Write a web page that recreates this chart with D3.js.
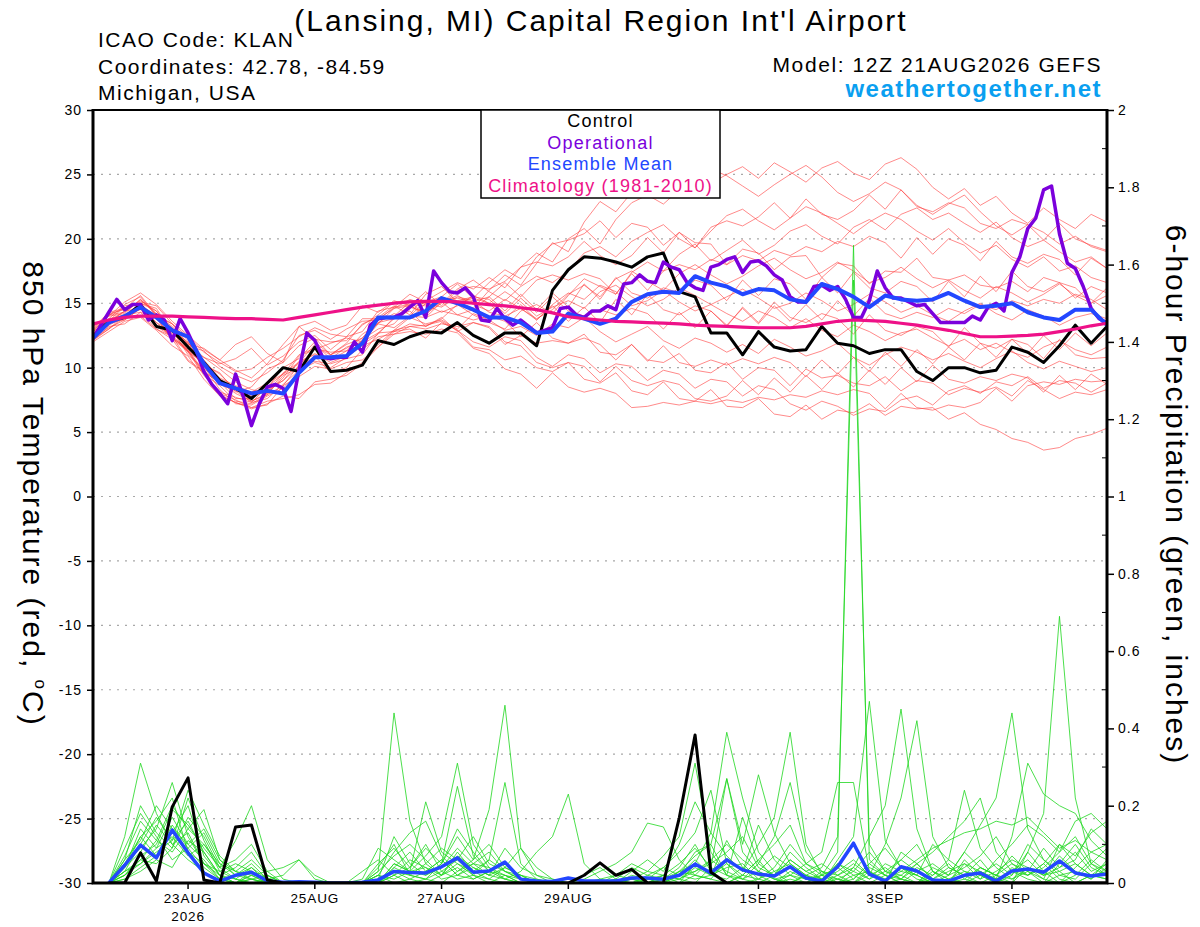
<!DOCTYPE html>
<html>
<head>
<meta charset="utf-8">
<script src="https://cdn.jsdelivr.net/npm/d3@7/dist/d3.min.js"></script>
<style>
  body { margin: 0; background: #fff; }
  text { font-family: "Liberation Sans", Arial, Helvetica, sans-serif; }
</style>
</head>
<body>
<svg id="chart" width="1200" height="927"></svg>
<script>
// GEFS run 12Z 21AUG2026, 6-hourly steps out to 384 h (operational run is 3-hourly)
const runStart = Date.UTC(2026, 7, 21, 12);
const HOUR = 3600e3;

const tempTicks = [-30, -25, -20, -15, -10, -5, 0, 5, 10, 15, 20, 25, 30];
const precipTicks = [0, 0.2, 0.4, 0.6, 0.8, 1, 1.2, 1.4, 1.6, 1.8, 2];
const precipMinor = [0.1, 0.3, 0.5, 0.7, 0.9, 1.1, 1.3, 1.5, 1.7, 1.9];
const dateTickTimes = [Date.UTC(2026,7,23), Date.UTC(2026,7,25), Date.UTC(2026,7,27), Date.UTC(2026,7,29),
                       Date.UTC(2026,8,1), Date.UTC(2026,8,3), Date.UTC(2026,8,5)];
const dateTickLabels = ["23AUG", "25AUG", "27AUG", "29AUG", "1SEP", "3SEP", "5SEP"];

// 850 hPa temperature, 6-hourly from 0 h (65 values)
const controlTemp = [12.4,13.6,13.9,14.9,13.2,12.9,11.6,10.4,9.0,8.4,
  7.6,8.8,10.0,9.7,11.6,9.7,9.8,10.2,12.1,11.8,
  12.4,12.8,12.7,13.5,12.5,11.9,12.7,12.7,11.7,16.0,
  17.6,18.6,18.5,18.2,17.8,18.6,18.9,15.9,15.5,12.7,
  12.7,11.0,12.8,11.6,11.3,11.4,13.2,11.9,11.7,11.1,
  11.4,11.4,9.7,9.0,10.0,10.0,9.6,9.8,11.6,11.2,
  10.4,11.7,13.3,11.9,13.2];

const meanTemp = [12.3,13.5,14.0,14.7,13.9,12.9,12.4,10.3,8.8,8.4,
  8.0,8.2,8.0,9.6,10.8,10.8,10.9,11.9,13.9,13.9,
  13.9,14.4,15.4,15.0,14.5,13.9,13.9,13.5,12.7,12.8,
  14.2,13.8,13.4,13.8,15.1,15.7,15.9,15.8,17.1,16.6,
  16.3,15.7,16.1,16.0,15.3,15.1,16.5,16.1,15.5,14.7,
  15.6,15.3,15.2,15.3,15.8,15.2,14.7,14.8,15.0,14.3,
  13.9,13.7,14.5,14.5,13.3];

const climoTemp = [13.4,13.7,13.9,14.0,14.0,14.0,13.95,13.9,13.85,13.8,
  13.8,13.75,13.7,13.9,14.1,14.3,14.5,14.7,14.85,15.0,
  15.1,15.15,15.15,15.1,15.0,14.9,14.8,14.65,14.5,14.25,
  13.95,13.8,13.7,13.6,13.55,13.5,13.45,13.4,13.3,13.25,
  13.2,13.15,13.1,13.1,13.1,13.2,13.4,13.6,13.7,13.65,
  13.6,13.45,13.3,13.1,12.9,12.65,12.4,12.4,12.45,12.5,
  12.6,12.8,13.0,13.25,13.45];

// operational, 3-hourly from 0 h (129 values)
const operTemp = [12.3,13.3,14.3,15.3,14.5,14.9,14.9,13.7,14.1,13.7,
  12.1,13.8,12.7,11.4,9.7,8.7,8.0,7.2,9.5,7.7,
  5.5,7.2,8.5,8.7,8.4,6.6,9.8,12.7,12.1,10.8,
  10.7,10.8,10.8,12.0,11.2,13.3,13.8,13.9,13.9,14.2,
  14.7,15.2,13.9,17.5,16.6,15.9,15.8,16.2,15.5,13.7,
  13.6,14.6,13.8,13.3,13.7,13.2,12.7,12.9,13.1,14.6,
  14.7,14.1,13.9,14.4,14.4,14.8,14.5,16.5,16.6,17.2,
  16.7,16.6,18.2,17.8,17.6,16.6,16.2,16.0,17.8,18.0,
  18.4,18.6,17.4,18.2,18.3,17.9,17.2,16.8,15.5,15.1,
  15.1,16.3,16.4,16.0,16.3,15.3,13.9,13.9,15.2,17.5,
  16.2,15.4,15.4,15.1,14.8,14.9,14.2,13.5,13.5,13.5,
  13.5,14.0,13.7,14.7,15.0,14.4,17.4,18.6,20.8,21.6,
  23.8,24.1,20.4,18.1,17.7,16.3,14.6,13.8,13.5];

// ensemble members, 850 hPa temperature
const memberTemps = [
  [12.6,13.8,14.9,15.5,14.0,13.4,12.1, 10.2,9.6,8.1,8.5,9.9,10.4,11.7, 12.3,11.0,11.9,13.4,
   13.9,14.8,14.1,15.7,16.3,15.1,14.6,16.0,17.2,16.4,18.1, 19.7,19.0,21.3,22.9,22.1,23.6,24.9,24.2,25.8,25.1,24.3,25.0,
   25.6,24.7,25.9,25.2,24.4,25.5,26.0,25.1,24.6,25.8,26.3,25.4,24.0,23.1,23.9,22.6,23.3,22.0,21.2,22.4,21.5,20.8,21.9,21.3],
  [12.9,14.1,14.6,15.0,14.6,12.7,11.6, 10.8,9.9,8.9,8.3,8.0,9.2,10.9, 11.4,11.9,12.3,12.0,
   13.4,13.1,14.0,15.2,15.9,16.6,16.1,17.0,16.2,17.8,18.9, 18.2,20.0,20.8,19.6,21.5,22.8,23.4,22.7,23.8,24.6,25.4,24.9,
   24.1,23.3,24.2,25.0,25.7,24.8,23.6,22.9,23.5,24.4,23.8,22.6,21.9,22.7,23.4,22.1,21.0,20.3,21.1,20.5,19.6,20.2,19.4,19.0],
  [13.2,14.0,15.1,15.8,14.9,13.6,12.5, 11.4,10.6,9.8,9.2,10.3,11.8,13.2, 13.6,12.9,13.3,14.8,
   14.3,15.2,14.8,14.2,15.0,16.1,16.8,15.9,15.2,16.3,17.1, 16.6,17.5,18.9,19.4,18.6,19.8,20.5,21.1,20.0,19.3,20.6,21.8,
   22.3,21.4,20.7,21.6,22.5,22.0,21.2,20.4,21.3,22.0,21.5,20.6,19.9,20.8,19.7,18.9,19.5,18.4,17.8,18.6,17.5,17.9,17.0,16.6],
  [12.3,13.1,13.7,14.6,13.9,12.2,11.3, 9.6,8.9,8.0,7.4,7.9,9.4,10.0, 10.9,10.6,11.3,11.8,
   12.6,13.9,14.4,13.2,13.8,14.9,14.1,13.5,13.0,14.4,14.9, 14.2,15.6,16.9,16.3,15.7,17.4,18.2,17.5,18.8,19.6,18.3,19.1,
   19.9,18.8,19.5,20.6,21.1,20.2,19.6,20.9,21.5,20.7,21.9,22.4,21.5,22.0,21.2,20.5,21.3,20.1,19.4,19.9,19.0,18.2,18.6,17.7],
  [12.7,13.5,14.4,15.2,14.4,13.0,11.9, 10.6,9.2,8.6,8.1,8.8,9.5,10.3, 11.1,10.4,10.9,12.2,
   13.0,13.4,14.7,14.3,15.1,15.6,14.9,14.4,15.3,14.6,13.8, 14.5,15.7,16.4,15.5,16.9,17.5,16.7,16.0,17.3,18.0,17.2,16.5,
   17.1,17.9,18.5,17.6,16.9,17.4,18.2,17.5,16.6,17.0,17.8,16.9,16.2,16.8,16.0,15.4,16.3,15.8,15.1,15.7,16.5,15.6,15.0,15.6],
  [13.0,14.2,14.5,15.1,14.8,13.4,12.4, 11.2,10.4,9.7,9.9,10.8,11.5,12.4, 13.1,12.6,12.4,13.8,
   13.8,14.6,15.3,14.9,14.3,14.8,15.6,15.0,15.9,15.1,14.0, 14.7,15.2,14.6,15.9,16.4,15.5,14.8,15.3,16.2,15.6,14.9,15.5,
   16.1,15.4,14.6,15.0,15.8,15.2,14.4,14.9,15.7,15.1,14.3,14.8,14.1,13.6,14.4,15.0,14.2,13.7,14.5,14.0,13.3,13.9,14.2,13.8],
  [12.5,13.3,13.9,14.8,14.1,12.9,11.0, 9.9,9.1,8.3,7.8,8.2,9.0,10.1, 11.6,11.0,11.5,12.3,
   13.5,14.2,13.8,15.0,14.7,15.5,15.2,14.3,14.0,14.6,13.7, 14.9,15.8,15.3,16.4,15.9,14.8,15.2,16.0,15.1,14.4,14.9,14.2,
   13.6,14.4,13.9,13.1,13.8,12.9,12.4,13.3,12.8,12.1,12.7,13.0,12.3,11.7,12.2,11.4,11.9,11.2,10.8,11.6,12.1,11.4,11.0,11.6],
  [12.1,13.0,13.9,14.0,13.0,12.4,11.2, 9.4,8.1,7.7,7.3,7.6,8.7,9.8, 10.4,10.0,10.8,11.7,
   12.2,12.9,13.9,13.4,13.7,13.0,14.2,13.7,12.9,13.2,12.5, 13.4,13.1,13.9,12.8,12.0,12.6,13.2,12.1,11.5,12.3,11.9,11.2,
   11.8,11.1,12.2,11.6,10.9,11.3,11.9,10.8,10.2,11.0,11.6,11.2,10.6,11.1,10.5,10.0,10.7,11.3,10.4,9.9,10.5,10.1,9.7,10.0],
  [12.8,13.6,14.4,14.6,13.5,12.3,11.5, 10.1,8.3,7.2,7.1,7.8,8.4,9.6, 10.9,9.6,10.0,11.4,
   12.4,12.6,13.2,13.3,13.6,12.9,12.0,11.6,12.4,12.1,10.8, 10.1,11.0,10.7,9.6,10.3,10.1,9.0,9.8,9.5,8.4,9.1,8.9,
   7.8,8.6,8.3,7.2,6.7,7.4,7.0,6.3,6.8,6.6,7.5,7.8,7.1,8.2,8.6,8.0,8.9,8.6,9.3,8.4,9.0,8.8,8.1,8.8],
  [12.0,12.8,13.6,13.9,12.9,11.7,10.9, 9.1,7.8,7.3,6.9,7.1,8.6,9.3, 10.1,9.9,10.4,10.6,
   11.6,12.8,13.0,12.3,13.5,12.9,11.6,11.4,10.6,10.9,10.0, 9.7,10.4,9.1,8.8,9.6,8.2,7.9,8.9,7.6,7.4,8.3,7.0,
   6.9,7.6,6.4,6.2,7.1,6.0,6.7,6.5,7.2,6.3,7.0,6.8,6.9,6.0,6.5,5.6,5.2,4.5,4.2,3.6,3.8,4.5,4.8,5.3],
  [12.4,13.7,14.1,14.5,13.3,12.5,11.3, 9.5,8.6,7.4,7.2,7.9,8.6,10.2, 10.5,10.3,10.7,11.0,
   12.7,12.8,13.4,13.2,13.9,12.8,13.5,13.1,11.8,12.5,11.9, 12.1,11.9,12.6,11.2,11.0,11.8,10.6,10.4,11.1,9.8,9.6,10.4,
   9.1,10.0,9.8,8.6,9.9,9.2,9.4,8.8,8.6,9.3,8.2,9.0,8.8,7.9,8.4,8.1,8.5,7.8,9.0,8.3,7.6,8.1,7.9,8.3],
  [12.9,14.0,14.2,15.3,14.2,12.6,11.9, 10.8,10.3,10.7,11.5,10.2,10.9,12.0, 12.5,11.4,12.4,12.8,
   14.4,14.7,15.7,15.1,15.5,16.5,15.4,16.6,17.6,16.9,18.6, 19.6,19.9,20.4,21.4,20.1,21.2,20.9,19.5,20.5,19.7,19.6,18.0,
   19.2,18.9,17.6,18.6,18.7,17.0,18.1,17.9,16.5,17.5,17.4,18.5,17.0,16.8,17.2,16.4,16.2,16.7,15.9,17.0,16.6,15.4,16.3,15.8],
  [12.2,13.0,14.1,14.3,13.8,12.3,11.4, 9.7,8.9,7.6,7.6,8.3,9.0,10.5, 11.0,10.8,10.8,12.0,
   12.7,13.8,14.0,13.9,14.4,14.1,14.5,15.5,14.4,15.7,14.5, 15.8,14.7,16.5,15.3,17.0,15.8,15.4,16.2,15.8,16.8,16.4,15.2,
   16.8,15.6,16.9,16.5,15.3,17.0,15.8,17.4,16.2,15.8,16.7,16.3,15.1,16.7,15.5,17.1,15.9,17.5,16.3,15.9,16.6,16.2,15.0,16.2],
  [12.6,13.8,14.1,15.0,13.8,13.1,11.3, 10.4,8.8,8.4,7.4,8.0,9.6,10.4, 11.8,10.7,11.6,12.0,
   13.5,13.8,14.9,13.9,15.1,14.1,13.7,14.0,13.6,12.4,13.5, 12.3,11.9,12.3,11.8,10.6,11.8,10.5,11.7,10.4,10.1,10.6,10.2,
   10.7,10.3,10.8,10.4,9.3,10.6,9.5,10.8,9.7,11.2,10.1,11.4,10.3,11.6,10.6,11.9,10.8,12.2,11.1,12.5,11.4,12.7,11.7,12.7],
  [12.3,13.7,13.8,14.8,13.5,12.8,11.2, 10.4,8.7,8.2,7.3,8.5,9.5,11.0, 11.5,11.2,11.3,12.6,
   13.4,14.6,14.8,15.9,14.8,16.0,16.3,16.1,16.7,17.8,18.2, 17.9,18.6,19.8,18.7,18.0,18.7,20.1,18.9,20.5,19.3,20.9,21.4,
   21.0,21.7,22.8,21.6,23.1,21.9,21.5,22.2,23.4,22.3,23.8,22.5,22.1,22.8,22.4,21.2,20.8,21.5,21.1,19.9,21.2,20.0,19.5,19.1],
  [13.1,14.3,14.6,15.6,14.1,13.2,11.7, 11.3,10.1,9.4,8.9,9.6,10.6,12.5, 12.9,12.2,13.0,13.6,
   13.7,14.7,14.9,14.8,15.2,15.1,15.4,15.0,13.8,14.9,13.7, 14.8,13.6,14.7,13.5,15.3,14.1,15.7,14.5,14.1,14.8,14.4,13.2,
   14.7,13.5,15.1,13.9,13.5,14.2,13.8,12.6,14.1,12.9,12.5,13.2,12.8,11.6,13.1,11.9,11.5,12.2,11.8,10.7,12.2,11.0,10.7,10.8],
  [12.2,13.5,13.7,14.6,13.2,12.4,10.6, 9.7,8.0,7.5,6.9,7.4,7.6,7.9, 8.7,8.8,9.6,10.4,
   11.8,12.9,13.2,13.0,13.4,13.2,13.5,13.2,12.0,11.7,10.4, 10.0,10.4,10.1,8.9,10.1,9.0,8.6,9.0,8.7,7.6,7.4,7.8,
   9.0,7.9,9.2,8.1,9.4,8.3,9.6,8.5,9.8,8.7,10.0,8.9,10.2,9.1,8.8,9.3,9.0,9.5,9.2,8.1,9.4,8.3,9.5,8.7],
  [12.8,13.6,14.8,15.0,14.4,12.8,12.0, 10.3,9.5,8.3,8.1,8.4,10.0,10.7, 12.0,11.0,11.8,12.3,
   13.8,14.0,15.1,14.1,15.3,15.4,15.1,15.5,16.6,15.5,16.8, 17.2,16.8,17.3,16.9,15.7,17.3,16.0,17.5,18.0,17.6,18.4,18.0,
   18.7,18.3,19.1,18.7,19.4,19.0,19.8,19.4,20.2,19.7,18.5,20.1,18.8,20.0,19.5,18.3,19.8,18.6,18.1,18.8,18.4,17.2,18.5,17.7],
  [12.1,13.2,13.4,14.3,13.0,12.2,10.5, 9.6,7.9,7.3,6.8,7.2,7.8,7.6, 8.9,9.1,9.4,10.3,
   11.6,12.6,12.8,12.6,13.0,12.7,11.5,11.1,9.9,9.5,8.4, 9.6,8.5,8.1,8.4,8.0,6.9,7.0,7.3,7.1,7.4,7.2,7.5,
   7.3,7.7,7.5,7.9,7.7,8.2,7.9,8.3,8.0,6.8,8.0,6.9,6.7,7.1,6.9,7.3,8.4,7.4,8.6,8.9,8.7,9.1,8.9,9.0],
  [12.8,14.1,14.3,15.3,14.1,13.4,11.8, 11.5,10.6,11.8,12.4,11.1,10.4,13.2, 12.2,12.0,12.1,13.3,
   14.1,15.1,15.2,15.0,15.4,15.2,15.5,15.3,14.2,15.4,14.3, 15.5,14.4,14.0,14.5,14.1,14.6,14.2,13.0,14.3,13.1,14.4,13.3,
   14.6,13.4,14.8,13.6,14.9,13.7,15.2,14.0,15.4,14.2,13.8,14.3,13.9,14.6,14.2,14.9,14.5,15.2,14.8,15.3,15.0,15.7,15.3,14.5]
];

// 6-hour precipitation (inches), valid at 6 h .. 384 h (64 values)
const controlPrecip = [0,0,0.078,0.005,0.197,0.272,0.008,0,
  0.145,0.15,0.008,0,0,0,0,0,
  0,0,0,0,0,0,0,0,
  0,0,0,0,0,0,0.02,0.052,
  0.02,0.035,0,0,0.168,0.383,0.028,0,
  0,0,0,0,0,0,0,0,
  0,0,0,0,0,0,0,0,
  0,0,0,0,0,0,0,0];

const meanPrecip = [0,0.046,0.098,0.065,0.137,0.078,0.026,0.005,
  0.02,0.028,0.005,0.002,0.003,0.002,0,0,
  0.002,0.008,0.03,0.027,0.026,0.042,0.065,0.028,
  0.031,0.054,0.01,0.005,0.004,0.013,0.005,0.005,
  0.005,0.013,0.013,0.01,0.02,0.049,0.026,0.06,
  0.034,0.023,0.018,0.042,0.013,0.005,0.042,0.103,
  0.023,0.005,0.042,0.031,0.008,0.005,0.02,0.026,
  0.005,0.031,0.036,0.028,0.057,0.026,0.018,0.023];

const memberPrecips = [
  [0,0.12,0.31,0.18,0.10,0.06,0.03,0, 0.02,0.05,0.01,0,0,0,0,0, 0,0.03,0.44,0.16,0.05,0.02,0.08,0.03, 0.01,0,0,0,0,0,0,0,
   0,0,0,0,0.02,0.06,0.02,0.11, 0.04,0,0,0.02,0,0,0.05,0.02, 0,0,0.04,0.01,0,0,0.06,0.02, 0,0.03,0.01,0,0.05,0.1,0.04,0.02],
  [0,0.05,0.09,0.14,0.26,0.12,0.05,0.01, 0,0.02,0,0,0,0,0,0, 0,0,0.02,0.04,0.09,0.05,0.12,0.06, 0.19,0.46,0.09,0.02,0,0,0,0,
   0,0,0,0.01,0.04,0.1,0.03,0, 0.02,0.06,0.01,0,0,0.03,0,0.01, 0.05,0.02,0,0,0.03,0.01,0,0.04, 0.02,0,0.08,0.03,0,0.02,0.06,0.03],
  [0,0.03,0.06,0.11,0.08,0.14,0.19,0.06, 0.03,0.01,0,0,0,0,0,0, 0,0,0.05,0.03,0.07,0.12,0.31,0.1, 0.04,0.02,0,0,0,0,0,0,
   0.01,0,0,0,0.03,0.05,0.13,0.39, 0.22,0.08,0.03,0,0.02,0,0,0, 0.03,0,0.08,0.05,0.01,0,0.02,0, 0,0.04,0.02,0.05,0.01,0,0.02,0.05],
  [0,0.02,0.05,0.09,0.12,0.07,0.1,0.04, 0.11,0.2,0.06,0.01,0,0,0,0, 0,0,0.03,0.01,0,0.02,0.04,0.01, 0.03,0.05,0.01,0,0,0,0.02,0.04,
   0.01,0,0,0,0,0.02,0.01,0.06, 0.03,0.1,0.17,0.39,0.1,0.02,0.01,0, 0,0.02,0.01,0,0.04,0.02,0.08,0.15, 0.22,0.44,0.14,0.06,0.03,0,0.02,0.01],
  [0,0.04,0.14,0.09,0.17,0.1,0.06,0.01, 0,0.03,0.01,0,0,0,0,0, 0,0.02,0,0.01,0.03,0.06,0.02,0.04, 0.02,0.01,0,0,0,0,0,0.01,
   0.02,0.05,0.03,0.07,0.12,0.31,0.08,0.02, 0,0.01,0,0.03,0.01,0,0.06,0.12, 0.47,0.11,0.04,0.02,0,0.01,0.03,0.02, 0,0.02,0.08,0.18,0.69,0.22,0.05,0.03],
  [0,0.06,0.2,0.13,0.09,0.22,0.11,0.03, 0.01,0,0,0,0,0,0,0, 0,0.04,0.1,0.02,0.01,0,0.03,0.06, 0.1,0.04,0.02,0,0,0,0,0,
   0,0.01,0.03,0.02,0,0.05,0.02,0.01, 0.04,0.02,0,0.01,0,0.02,0.08,1.65, 0.06,0.02,0,0.03,0.01,0,0.05,0.03, 0.01,0,0.04,0.02,0.07,0.03,0.01,0.04],
  [0,0.01,0.04,0.07,0.15,0.09,0.13,0.05, 0.02,0.04,0,0,0,0,0,0, 0.01,0.09,0.06,0.03,0.21,0.08,0.05,0.02, 0.06,0.26,0.05,0.01,0,0,0,0,
   0,0,0,0,0.02,0.03,0.06,0.1, 0.06,0.03,0.01,0,0.02,0.04,0.12,1.56, 0.1,0.03,0.01,0,0.02,0.05,0.01,0, 0.02,0.05,0.03,0.01,0,0.04,0.08,0.1],
  [0,0.03,0.1,0.17,0.11,0.16,0.08,0.02, 0,0.01,0.02,0,0,0,0,0, 0,0.01,0.12,0.05,0.02,0.05,0.25,0.07, 0.03,0.01,0.03,0.08,0.12,0.23,0.05,0.01,
   0,0,0.01,0.02,0.01,0,0.04,0.02, 0.01,0.05,0.02,0.06,0.03,0.01,0,0.04, 0.12,0.2,0.45,0.14,0.03,0.01,0,0.02, 0.05,0.02,0.1,0.06,0.02,0.03,0.01,0.06],
  [0,0.07,0.16,0.11,0.2,0.14,0.1,0.05, 0.03,0.02,0,0,0,0,0,0, 0,0,0.02,0.06,0.04,0.01,0.02,0.05, 0.08,0.03,0.01,0,0,0,0,0,
   0,0.02,0.01,0.04,0.08,0.13,0.24,0.05, 0.01,0,0.02,0.08,0.04,0.01,0.03,0.06, 0.02,0.1,0.22,0.42,0.12,0.04,0.02,0.06, 0.01,0.12,0.31,0.23,0.2,0.18,0.11,0.07],
  [0,0.02,0.06,0.05,0.09,0.17,0.12,0.04, 0.01,0,0.01,0.02,0.06,0.01,0,0, 0,0,0.04,0.02,0.01,0.03,0.01,0.02, 0.01,0.04,0.02,0,0,0,0,0,
   0,0.01,0,0.02,0.05,0.09,0.04,0.27, 0.1,0.28,0.13,0.05,0.02,0,0.01,0.03, 0.01,0.05,0.03,0.02,0.1,0.06,0.24,0.09, 0.04,0.01,0.03,0.09,0.04,0.06,0.14,0.1],
  [0,0.05,0.12,0.07,0.13,0.2,0.07,0.02, 0,0.01,0,0,0,0,0,0, 0,0.03,0.07,0.1,0.06,0.02,0.07,0.04, 0.02,0.09,0.04,0.02,0.01,0,0,0,
   0,0,0,0.01,0.03,0.07,0.1,0.02, 0.17,0.05,0.12,0.26,0.08,0.03,0.02,0, 0.02,0.04,0.01,0.05,0.08,0.12,0.16,0.22, 0.08,0.03,0.02,0.04,0.08,0.12,0.05,0.02],
  [0,0.04,0.08,0.15,0.1,0.13,0.05,0.03, 0.05,0.03,0.01,0,0,0,0,0, 0,0.01,0.03,0.02,0.05,0.09,0.06,0.02, 0,0.02,0.01,0,0,0,0.01,0.03,
   0.05,0.08,0.155,0.145,0.06,0.02,0.01,0, 0.02,0.06,0.1,0.15,0.05,0.08,0.26,0.26, 0.03,0.01,0.02,0,0.01,0.03,0.05,0.01, 0.03,0.06,0.04,0.01,0.1,0.07,0.13,0.16],
  [0,0.06,0.11,0.2,0.14,0.1,0.14,0.06, 0.02,0.01,0,0,0,0,0,0, 0,0.02,0.08,0.13,0.16,0.07,0.03,0.05, 0.04,0.01,0,0,0,0,0,0,
   0,0,0.02,0.04,0.02,0.08,0.1,0.27, 0.08,0.03,0.01,0.02,0.05,0.03,0.01,0, 0.04,0.02,0.06,0.1,0.03,0,0.01,0.04, 0.02,0.07,0.03,0,0.02,0.01,0.05,0.09],
  [0,0.09,0.18,0.12,0.06,0.09,0.04,0.01, 0,0.02,0.03,0.04,0.06,0.02,0,0, 0,0,0.05,0.03,0.02,0.04,0.09,0.05, 0.02,0.04,0.09,0.04,0.01,0,0,0,
   0.02,0.01,0,0,0.01,0.04,0.02,0.05, 0.02,0.01,0.04,0.1,0.05,0.02,0,0.02, 0.03,0,0.01,0.04,0.02,0.06,0.03,0.01, 0.06,0.1,0.15,0.12,0.08,0.16,0.18,0.14],
  [0,0.02,0.07,0.1,0.19,0.15,0.09,0.04, 0.06,0.1,0.03,0,0,0,0,0, 0.03,0.06,0.02,0,0.01,0.05,0.14,0.08, 0.03,0.02,0,0,0,0,0,0,
   0,0.03,0.06,0.03,0.1,0.21,0.13,0.07, 0.03,0.15,0.06,0.02,0.01,0.02,0.04,0.01, 0.05,0.09,0.04,0.02,0,0.02,0.04,0.07, 0.12,0.05,0.02,0.05,0.1,0.05,0.02,0.03],
  [0,0.03,0.05,0.08,0.11,0.24,0.15,0.07, 0.03,0.06,0.02,0,0,0,0,0, 0,0.05,0.09,0.04,0.1,0.03,0.06,0.12, 0.05,0.03,0.01,0,0,0,0,0,
   0.01,0.04,0.02,0.01,0.02,0.01,0.02,0.04, 0.05,0.01,0.03,0.05,0.02,0.01,0.05,0.03, 0.08,0.03,0.06,0.03,0.05,0.02,0.08,0.04, 0.02,0.01,0.04,0.02,0.03,0.05,0.02,0.01],
  [0,0.01,0.03,0.06,0.04,0.11,0.08,0.02, 0.01,0.04,0.01,0,0,0,0,0, 0,0.02,0.01,0.03,0.04,0.02,0.05,0.03, 0.06,0.03,0.02,0.01,0,0,0,0,
   0,0,0.01,0,0.03,0.02,0.06,0.03, 0.01,0.03,0.07,0.04,0.01,0,0.02,0.05, 0.02,0.01,0.03,0.06,0.09,0.11,0.13,0.14, 0.16,0.15,0.17,0.13,0.09,0.11,0.08,0.06],
  [0,0.04,0.12,0.16,0.22,0.08,0.05,0.02, 0.04,0.08,0.02,0,0,0,0,0, 0,0,0.04,0.08,0.03,0.06,0.02,0.01, 0.03,0.05,0.01,0,0,0,0,0,
   0,0,0,0.02,0.01,0.03,0.05,0.08, 0.12,0.04,0.02,0.06,0.03,0.05,0.02,0.04, 0.01,0.03,0.02,0.05,0.01,0.04,0.02,0.03, 0.01,0.03,0.06,0.02,0.04,0.08,0.03,0.05]
];

const colors = { member: "#ff3a3a", precip: "#22d822", control: "#000000",
                 oper: "#7b00dc", mean: "#2347ff", climo: "#ee1188", site: "#0a9ff0" };

const plot = { left: 93, right: 1107, top: 110, bottom: 883 };
const svg = d3.select("#chart");

const x = d3.scaleUtc()
    .domain([new Date(runStart), new Date(runStart + 384 * HOUR)])
    .range([plot.left, plot.right]);
const yT = d3.scaleLinear().domain([-30, 30]).range([plot.bottom, plot.top]);
const yP = d3.scaleLinear().domain([0, 2]).range([plot.bottom, plot.top]);

const lineT6 = d3.line().x((d, i) => x(new Date(runStart + i * 6 * HOUR))).y(d => yT(d));
const lineT3 = d3.line().x((d, i) => x(new Date(runStart + i * 3 * HOUR))).y(d => yT(d));
const lineP6 = d3.line().x((d, i) => x(new Date(runStart + (i + 1) * 6 * HOUR))).y(d => yP(d));

svg.append("clipPath").attr("id", "plotClip")
  .append("rect").attr("x", plot.left).attr("y", plot.top)
  .attr("width", plot.right - plot.left).attr("height", plot.bottom - plot.top);

// dotted gridlines every 5 C
svg.append("g").selectAll("line")
  .data(tempTicks.filter(v => v > -30 && v < 30))
  .join("line")
  .attr("x1", plot.left).attr("x2", plot.right)
  .attr("y1", d => yT(d)).attr("y2", d => yT(d))
  .attr("stroke", "#a8a8a8").attr("stroke-width", 1.2).attr("stroke-dasharray", "2,6");

const marks = svg.append("g").attr("clip-path", "url(#plotClip)");

marks.append("g").selectAll("path").data(memberTemps).join("path")
  .attr("d", lineT6).attr("fill", "none")
  .attr("stroke", colors.member).attr("stroke-width", 0.8).attr("stroke-opacity", 0.75);

marks.append("g").selectAll("path").data(memberPrecips).join("path")
  .attr("d", lineP6).attr("fill", "none")
  .attr("stroke", colors.precip).attr("stroke-width", 0.9).attr("stroke-opacity", 0.9);

marks.append("path").datum(meanPrecip).attr("d", lineP6).attr("fill", "none")
  .attr("stroke", colors.mean).attr("stroke-width", 3.5).attr("stroke-linejoin", "round");
marks.append("path").datum(controlPrecip).attr("d", lineP6).attr("fill", "none")
  .attr("stroke", colors.control).attr("stroke-width", 3).attr("stroke-linejoin", "round");

marks.append("path").datum(controlTemp).attr("d", lineT6).attr("fill", "none")
  .attr("stroke", colors.control).attr("stroke-width", 3).attr("stroke-linejoin", "round");
marks.append("path").datum(operTemp).attr("d", lineT3).attr("fill", "none")
  .attr("stroke", colors.oper).attr("stroke-width", 3.5).attr("stroke-linejoin", "round");
marks.append("path").datum(meanTemp).attr("d", lineT6).attr("fill", "none")
  .attr("stroke", colors.mean).attr("stroke-width", 4).attr("stroke-linejoin", "round");
marks.append("path").datum(climoTemp).attr("d", lineT6).attr("fill", "none")
  .attr("stroke", colors.climo).attr("stroke-width", 3.2).attr("stroke-linejoin", "round");

// left axis (temperature)
const gL = svg.append("g").attr("transform", `translate(${plot.left},0)`)
  .call(d3.axisLeft(yT).tickValues(tempTicks).tickSize(6).tickPadding(5).tickFormat(d => String(d)));
gL.select(".domain").remove();
gL.selectAll(".tick line").attr("stroke-width", 1.5);
gL.selectAll(".tick text").attr("font-size", 14).style("letter-spacing", "1px").attr("fill", "#000");

// right axis (precipitation)
const gR = svg.append("g").attr("transform", `translate(${plot.right},0)`)
  .call(d3.axisRight(yP).tickValues(precipTicks).tickSize(7).tickPadding(4).tickFormat(d => String(d)));
gR.select(".domain").remove();
gR.selectAll(".tick line").attr("stroke-width", 1.5);
gR.selectAll(".tick text").attr("font-size", 14).style("letter-spacing", "1px").attr("fill", "#000");
svg.append("g").selectAll("line").data(precipMinor).join("line")
  .attr("x1", plot.right - 5).attr("x2", plot.right)
  .attr("y1", d => yP(d)).attr("y2", d => yP(d))
  .attr("stroke", "#000").attr("stroke-width", 1);

// bottom date ticks
const gB = svg.append("g");
gB.selectAll("line").data(dateTickTimes).join("line")
  .attr("x1", d => x(new Date(d))).attr("x2", d => x(new Date(d)))
  .attr("y1", plot.bottom).attr("y2", plot.bottom + 6)
  .attr("stroke", "#000").attr("stroke-width", 1.5);
gB.selectAll("text").data(dateTickTimes).join("text")
  .attr("x", d => x(new Date(d))).attr("y", 903)
  .attr("text-anchor", "middle").attr("font-size", 13.5).style("letter-spacing", "0.9px")
  .text((d, i) => dateTickLabels[i]);
gB.append("text").attr("x", x(new Date(dateTickTimes[0]))).attr("y", 921)
  .attr("text-anchor", "middle").attr("font-size", 13.5).style("letter-spacing", "0.9px")
  .text("2026");

// plot frame
svg.append("line").attr("x1", plot.left).attr("x2", plot.right).attr("y1", plot.top).attr("y2", plot.top)
  .attr("stroke", "#000").attr("stroke-width", 2);
svg.append("path")
  .attr("d", `M${plot.left},${plot.top - 1}V${plot.bottom}H${plot.right}V${plot.top - 1}`)
  .attr("fill", "none").attr("stroke", "#000").attr("stroke-width", 3);

// legend box
const legendNames = ["Control", "Operational", "Ensemble Mean", "Climatology (1981-2010)"];
const legendColors = [colors.control, colors.oper, colors.mean, colors.climo];
const legendY = [127, 148.5, 170, 191.5];
svg.append("rect").attr("x", 481).attr("y", plot.top).attr("width", 239).attr("height", 88)
  .attr("fill", "#fff").attr("stroke", "#000").attr("stroke-width", 1.5);
svg.append("g").selectAll("text").data(legendNames).join("text")
  .attr("x", 600.5).attr("y", (d, i) => legendY[i]).attr("text-anchor", "middle")
  .attr("font-size", 18).style("letter-spacing", "1.2px")
  .attr("fill", (d, i) => legendColors[i]).text(d => d);

// titles
svg.append("text").attr("x", 601).attr("y", 31).attr("text-anchor", "middle")
  .attr("font-size", 30).style("letter-spacing", "2px")
  .text("(Lansing, MI) Capital Region Int'l Airport");

const headerLeft = ["ICAO Code: KLAN", "Coordinates: 42.78, -84.59", "Michigan, USA"];
svg.append("g").selectAll("text").data(headerLeft).join("text")
  .attr("x", 98).attr("y", (d, i) => 47 + i * 26.5)
  .attr("font-size", 21).style("letter-spacing", "1.5px").text(d => d);

svg.append("text").attr("x", 1102).attr("y", 72).attr("text-anchor", "end")
  .attr("font-size", 21).style("letter-spacing", "1.6px").text("Model: 12Z 21AUG2026 GEFS");
svg.append("text").attr("x", 1102).attr("y", 97).attr("text-anchor", "end")
  .attr("font-size", 24).attr("font-weight", "bold").style("letter-spacing", "1.5px")
  .attr("fill", colors.site).text("weathertogether.net");

// axis titles, reading top to bottom
const leftTitle = svg.append("text").attr("transform", "translate(23,494) rotate(90)")
  .attr("text-anchor", "middle").attr("font-size", 30).style("letter-spacing", "2px");
leftTitle.append("tspan").text("850 hPa Temperature (red, ");
leftTitle.append("tspan").attr("font-size", 17).attr("dy", -12).text("o");
leftTitle.append("tspan").attr("dy", 12).text("C)");

svg.append("text").attr("transform", "translate(1166,495) rotate(90)")
  .attr("text-anchor", "middle").attr("font-size", 30).style("letter-spacing", "2px")
  .text("6-hour Precipitation (green, inches)");
</script>
</body>
</html>
